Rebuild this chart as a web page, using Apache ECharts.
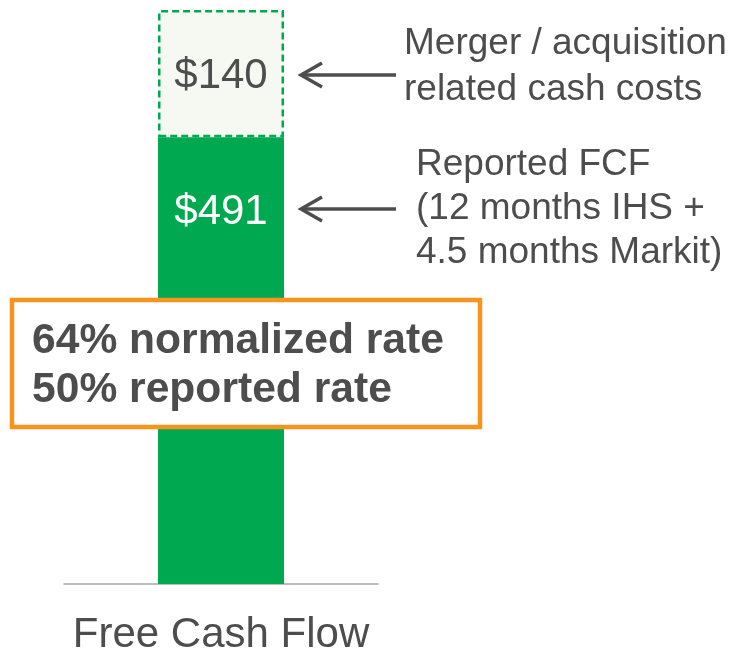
<!DOCTYPE html>
<html>
<head>
    <meta charset="utf-8">
    <title>Free Cash Flow</title>
    <script src="https://cdn.jsdelivr.net/npm/echarts@6/dist/echarts.min.js"></script>
    <style>
        html, body { margin: 0; padding: 0; background: #fff; }
    </style>
</head>
<body>
    <div id="main" style="width: 736px;height:653px;"></div>
    <script type="text/javascript">
        // data
        var categories = ['Free Cash Flow'];
        var reportedFcf = [491];
        var mergerCosts = [140];
        var mergerNote = ['Merger / acquisition', 'related cash costs'];
        var reportedNote = ['Reported FCF', '(12 months IHS +', '4.5 months Markit)'];
        var rateNote = ['64% normalized rate', '50% reported rate'];

        var font = '"Liberation Sans", Arial, sans-serif';
        var textColor = '#4d4d4d';
        var green = '#00a94f';

        var myChart = echarts.init(document.getElementById('main'));

        function arrow(y) {
            return [
                { type: 'line', shape: { x1: 302, y1: y, x2: 396, y2: y },
                  style: { stroke: textColor, lineWidth: 3.5 } },
                { type: 'polyline', shape: { points: [[322, y - 12], [301, y], [322, y + 12]] },
                  style: { stroke: textColor, lineWidth: 3.5, fill: null } }
            ];
        }

        function lines(arr, x, y0, step, size, weight) {
            return arr.map(function (t, i) {
                return {
                    type: 'text', x: x, y: y0 + i * step,
                    style: { text: t, fill: textColor, font: weight + ' ' + size + 'px ' + font,
                             align: 'left', verticalAlign: 'middle' }
                };
            });
        }

        var graphics = []
            .concat(arrow(75))
            .concat(arrow(209))
            .concat(lines(mergerNote, 404, 44, 46, 37, 'normal'))
            .concat(lines(reportedNote, 416, 165, 44, 37, 'normal'))
            .concat([{
                type: 'rect', shape: { x: 12, y: 300, width: 468, height: 127 },
                style: { fill: '#fff', stroke: '#f7941d', lineWidth: 4.5 }, z: 10
            }])
            .concat(lines(rateNote, 32, 341, 49, 42.6, 'bold').map(function (g) { g.z = 11; return g; }));

        var option = {
            animation: false,
            grid: { left: 64, right: 358, top: 10, bottom: 69, containLabel: false, outerBoundsMode: 'none' },
            xAxis: {
                type: 'category',
                data: categories,
                axisLine: { lineStyle: { color: '#a6a6a6', width: 1.5 } },
                axisTick: { show: false },
                axisLabel: { color: textColor, fontSize: 42, fontFamily: font, margin: 30 }
            },
            yAxis: { type: 'value', min: 0, max: 631, show: false, splitLine: { show: false } },
            series: [
                {
                    name: 'Reported FCF',
                    type: 'bar',
                    stack: 'fcf',
                    barWidth: 126,
                    data: reportedFcf,
                    itemStyle: { color: green },
                    label: {
                        show: true, position: ['50%', 75], align: 'center', verticalAlign: 'middle',
                        color: '#fff', fontSize: 42, fontFamily: font,
                        formatter: function (p) { return '$' + p.value; }
                    }
                },
                {
                    name: 'Merger / acquisition related cash costs',
                    type: 'bar',
                    stack: 'fcf',
                    barWidth: 126,
                    data: mergerCosts,
                    itemStyle: { color: '#f6f8f2', borderColor: green, borderWidth: 2.5, borderType: [7, 4] },
                    label: {
                        show: true, position: 'inside', offset: [0, 3],
                        color: textColor, fontSize: 42, fontFamily: font,
                        formatter: function (p) { return '$' + p.value; }
                    }
                }
            ],
            graphic: graphics
        };

        myChart.setOption(option);

        window.addEventListener("resize", function(){
            myChart.resize();
        })
    </script>
</body>
</html>
